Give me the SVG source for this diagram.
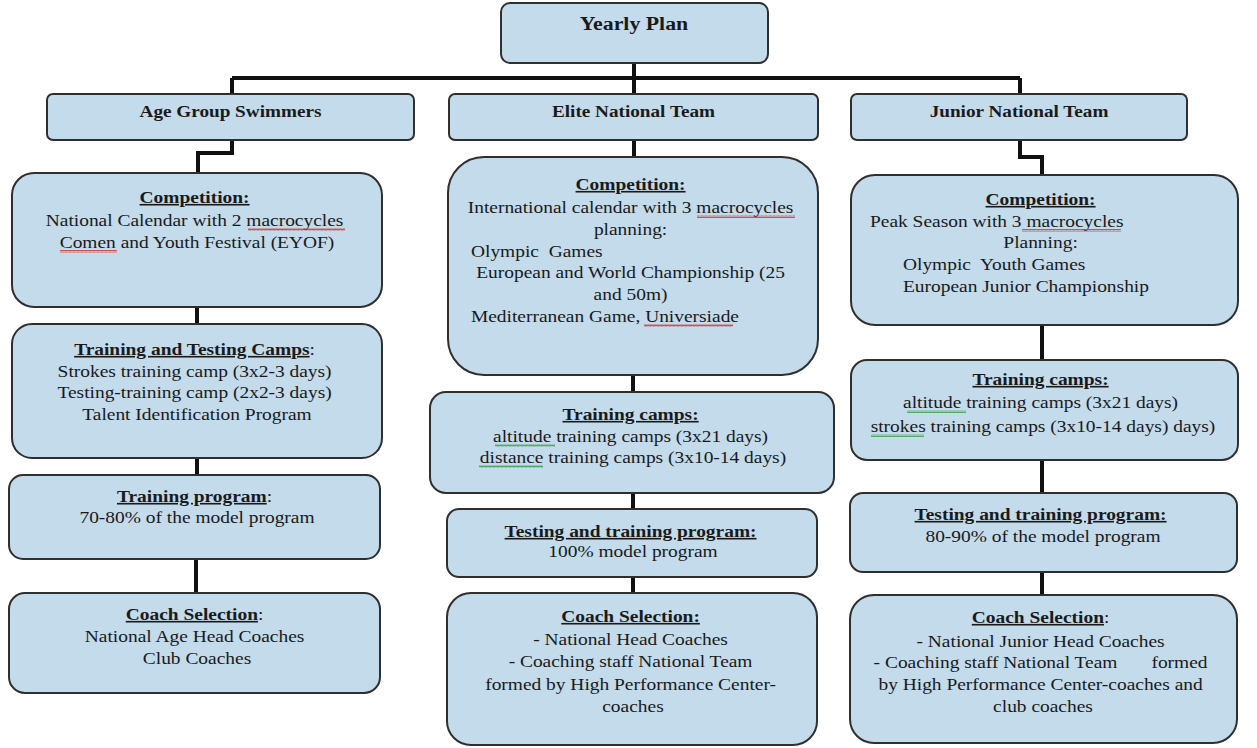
<svg xmlns="http://www.w3.org/2000/svg" width="1257" height="748" viewBox="0 0 1257 748">
<style>
.box{fill:#c3dbea;stroke:#2f2f2f;stroke-width:2}
.conn{fill:none;stroke:#111;stroke-width:4;stroke-linejoin:miter}
text{font-family:"Liberation Serif","Times New Roman",serif;fill:#1a1a1a}
.t{font-size:16.2px;text-anchor:middle}
.l{text-anchor:start}
.h{font-weight:bold;text-decoration:underline}
.top{font-size:18.2px;font-weight:bold;text-anchor:middle}
.lvl{font-size:16px;font-weight:bold;text-anchor:middle}
</style>
<defs>
<pattern id="wr" patternUnits="userSpaceOnUse" width="4" height="3"><path d="M0,2.5 L1,0.5 L2,2.5 L3,0.5 L4,2.5" fill="none" stroke="#d0302a" stroke-width="0.8"/></pattern>
<pattern id="wg" patternUnits="userSpaceOnUse" width="4" height="3"><path d="M0,2.5 L1,0.5 L2,2.5 L3,0.5 L4,2.5" fill="none" stroke="#3a9a4a" stroke-width="0.8"/></pattern>
</defs>
<rect width="1257" height="748" fill="#ffffff"/>

<g id="connectors">
<path class="conn" d="M634,63 V78 M232,78 H1020 M232,78 V94 M634,78 V94 M1020,78 V94"/>
<path class="conn" d="M232,140 V153 H198 V173"/>
<path class="conn" d="M634,140 V157"/>
<path class="conn" d="M1020,140 V157 H1042 V175"/>
<path class="conn" d="M197,307 V324 M197,458 V475 M196,559 V593"/>
<path class="conn" d="M633,375 V392 M633,493 V509 M633,577 V593"/>
<path class="conn" d="M1042,325 V360 M1042,460 V493 M1042,572 V595"/>
</g>

<g id="yearly-plan">
<rect class="box" x="501" y="3" width="267" height="60" rx="9"/>
<g transform="scale(1.2 1)"><text class="top" x="528.33" y="30">Yearly Plan</text></g>
</g>

<g id="age-group">
<rect class="box" x="47" y="94" width="367" height="46" rx="6"/>
<g transform="scale(1.2 1)"><text class="lvl" x="192.08" y="117">Age Group Swimmers</text></g>
</g>
<g id="elite">
<rect class="box" x="449" y="94" width="369" height="46" rx="6"/>
<g transform="scale(1.2 1)"><text class="lvl" x="527.9" y="117">Elite National Team</text></g>
</g>
<g id="junior">
<rect class="box" x="851" y="94" width="336" height="46" rx="6"/>
<g transform="scale(1.2 1)"><text class="lvl" x="849.17" y="117">Junior National Team</text></g>
</g>

<!-- Column 1 -->
<g id="age-competition">
<rect class="box" x="12" y="173" width="370" height="134" rx="22"/>
<g transform="scale(1.2 1)"><text class="t">
<tspan class="h" x="164.17" y="203">Competition:</tspan>
<tspan x="164.17" y="226">National Calendar with 2 macrocycles</tspan>
<tspan x="164.17" y="248">Comen and Youth Festival (EYOF)</tspan>
</text></g>
<rect x="248" y="228" width="97" height="3" fill="url(#wr)"/>
<rect x="60" y="250" width="57" height="3" fill="url(#wr)"/>
</g>
<g id="age-camps">
<rect class="box" x="12" y="324" width="370" height="134" rx="20"/>
<g transform="scale(1.2 1)"><text class="t">
<tspan x="164.17" y="355"><tspan class="h">Training and Testing Camps</tspan>:</tspan>
<tspan x="164.17" y="377">Strokes training camp (3x2-3 days)</tspan>
<tspan x="164.17" y="398">Testing-training camp (2x2-3 days)</tspan>
<tspan x="164.17" y="420">Talent Identification Program</tspan>
</text></g>
</g>
<g id="age-program">
<rect class="box" x="9" y="475" width="371" height="84" rx="14"/>
<g transform="scale(1.2 1)"><text class="t">
<tspan x="164.17" y="502"><tspan class="h">Training program</tspan>:</tspan>
<tspan x="164.17" y="523">70-80% of the model program</tspan>
</text></g>
</g>
<g id="age-coach">
<rect class="box" x="9" y="593" width="371" height="100" rx="16"/>
<g transform="scale(1.2 1)"><text class="t">
<tspan x="164.17" y="620"><tspan class="h">Coach Selection</tspan>:</tspan>
<tspan x="164.17" y="642">National Age Head Coaches</tspan>
<tspan x="164.17" y="664">Club Coaches</tspan>
</text></g>
</g>

<!-- Column 2 -->
<g id="elite-competition">
<rect class="box" x="448" y="157" width="370" height="218" rx="36"/>
<g transform="scale(1.2 1)"><text class="t">
<tspan class="h" x="527.5" y="190">Competition:</tspan>
<tspan x="527.5" y="213">International calendar with 3 macrocycles</tspan>
<tspan x="527.5" y="235">planning:</tspan>
<tspan class="l" x="392.5" y="257">Olympic&#160; Games</tspan>
<tspan x="527.5" y="278">European and World Championship (25</tspan>
<tspan x="527.5" y="300">and 50m)</tspan>
<tspan class="l" x="392.5" y="322">Mediterranean Game, Universiade</tspan>
</text></g>
<rect x="697" y="215" width="98" height="3" fill="url(#wr)"/>
<rect x="644" y="324" width="89" height="3" fill="url(#wr)"/>
</g>
<g id="elite-camps">
<rect class="box" x="430" y="392" width="404" height="101" rx="16"/>
<g transform="scale(1.2 1)"><text class="t">
<tspan class="h" x="527.5" y="420">Training camps:</tspan>
<tspan x="527.5" y="442">altitude training camps (3x21 days)</tspan>
<tspan x="527.5" y="463">distance training camps (3x10-14 days)</tspan>
</text></g>
<rect x="495" y="444" width="60" height="3" fill="url(#wg)"/>
<rect x="479" y="465" width="64" height="3" fill="url(#wg)"/>
</g>
<g id="elite-program">
<rect class="box" x="447" y="509" width="370" height="68" rx="12"/>
<g transform="scale(1.2 1)"><text class="t">
<tspan class="h" x="527.5" y="537">Testing and training program:</tspan>
<tspan x="527.5" y="557">100% model program</tspan>
</text></g>
</g>
<g id="elite-coach">
<rect class="box" x="447" y="593" width="370" height="152" rx="24"/>
<g transform="scale(1.2 1)"><text class="t">
<tspan class="h" x="527.5" y="622">Coach Selection:</tspan>
<tspan x="527.5" y="645">- National Head Coaches</tspan>
<tspan x="527.5" y="667">- Coaching staff National Team</tspan>
<tspan x="527.5" y="690">formed by High Performance Center-</tspan>
<tspan x="527.5" y="712">coaches</tspan>
</text></g>
</g>

<!-- Column 3 -->
<g id="junior-competition">
<rect class="box" x="851" y="175" width="387" height="150" rx="24"/>
<g transform="scale(1.2 1)"><text class="t">
<tspan class="h" x="869.17" y="205">Competition:</tspan>
<tspan class="l" x="725" y="227">Peak Season with 3 macrocycles</tspan>
<tspan x="869.17" y="248">Planning:</tspan>
<tspan class="l" x="752.5" y="270">Olympic&#160; Youth Games</tspan>
<tspan class="l" x="752.5" y="292">European Junior Championship</tspan>
</text></g>
<rect x="1022" y="229" width="99" height="3" fill="url(#wr)"/>
</g>
<g id="junior-camps">
<rect class="box" x="851" y="360" width="387" height="100" rx="16"/>
<g transform="scale(1.2 1)"><text class="t">
<tspan class="h" x="869.17" y="385">Training camps:</tspan>
<tspan x="869.17" y="408">altitude training camps (3x21 days)</tspan>
<tspan x="869.17" y="432">strokes training camps (3x10-14 days) days)</tspan>
</text></g>
<rect x="907" y="410" width="59" height="3" fill="url(#wg)"/>
<rect x="871" y="434" width="53" height="3" fill="url(#wg)"/>
</g>
<g id="junior-program">
<rect class="box" x="850" y="493" width="387" height="79" rx="13"/>
<g transform="scale(1.2 1)"><text class="t">
<tspan class="h" x="869.17" y="520">Testing and training program:</tspan>
<tspan x="869.17" y="542">80-90% of the model program</tspan>
</text></g>
</g>
<g id="junior-coach">
<rect class="box" x="850" y="595" width="387" height="148" rx="24"/>
<g transform="scale(1.2 1)"><text class="t">
<tspan x="869.17" y="623"><tspan class="h">Coach Selection</tspan>:</tspan>
<tspan x="869.17" y="647">- National Junior Head Coaches</tspan>
<tspan x="869.17" y="668">- Coaching staff National Team&#160;&#160;&#160;&#160;&#160;&#160; formed</tspan>
<tspan x="869.17" y="690">by High Performance Center-coaches and</tspan>
<tspan x="869.17" y="712">club coaches</tspan>
</text></g>
</g>
</svg>
